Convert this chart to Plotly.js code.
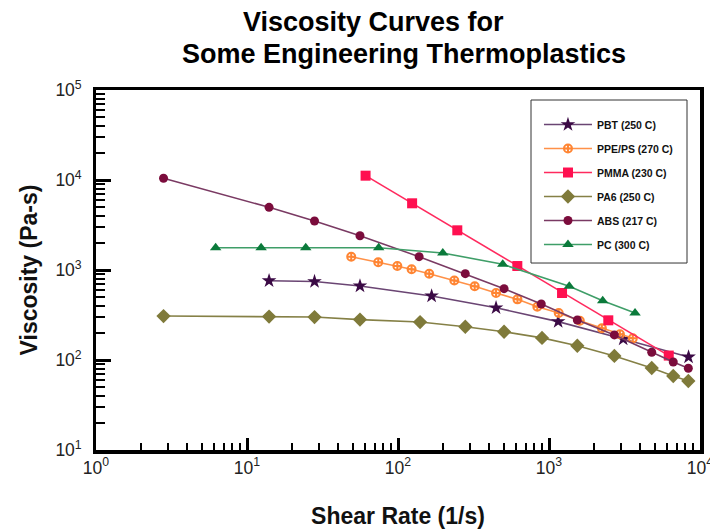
<!DOCTYPE html>
<html><head><meta charset="utf-8">
<script src="https://cdn.plot.ly/plotly-3.0.1.min.js"></script>
<style>html,body{margin:0;padding:0;background:#fff}#chart{width:710px;height:529px}</style>
</head><body><div id="chart"></div>
<script>
// Series names (legend labels)
const seriesNames = ["PBT (250 C)", "PPE/PS (270 C)", "PMMA (230 C)", "PA6 (250 C)", "ABS (217 C)", "PC (300 C)"];

// Shear rate (1/s) and viscosity (Pa-s)
const pbtX = [14, 28, 56, 167, 446, 1150, 3100, 8400];
const pbtY = [760, 745, 665, 515, 380, 267, 171, 108];

const ppeX = [49, 74, 99, 123, 161, 236, 322, 446, 618, 837, 1160, 1600, 2240, 2950, 3590];
const ppeY = [1406, 1219, 1107, 1021, 910, 764, 661, 555, 472, 391, 333, 273, 225, 193, 174];

const pmmaX = [61, 124, 247, 617, 1220, 2470, 6210];
const pmmaY = [11170, 5510, 2760, 1107, 555, 276, 112];

const pa6X = [2.8, 14, 28, 56, 140, 279, 504, 899, 1540, 2710, 4790, 6650, 8370];
const pa6Y = [308, 304, 300, 281, 264, 234, 206, 176, 144, 111, 81.5, 66.4, 58.4];

const absX = [2.8, 14, 28, 56, 138, 279, 504, 889, 1540, 2710, 4790, 6650, 8370];
const absY = [10450, 4970, 3500, 2400, 1406, 910, 620, 419, 278, 190, 122, 95, 81];

const pcX = [6.2, 12.4, 24.5, 74.5, 198, 494, 1362, 2268, 3714];
const pcY = [1770, 1770, 1770, 1770, 1545, 1157, 659, 456, 333];

// Axis tick labels
const xTickAlias = {"1": "10<sup>0</sup>", "10": "10<sup>1</sup>"};
const yTickAlias = {"10": "10<sup>1</sup>"};

const FONT = "Liberation Sans, Arial, Helvetica, sans-serif";

function mk(name, x, y, symbol, mcolor, lcolor, size, extra) {
  return {
    type: "scatter", mode: "lines+markers", name: name, x: x, y: y,
    line: {color: lcolor, width: 1.6},
    marker: Object.assign({symbol: symbol, color: mcolor, size: size, line: {width: 0}}, extra || {}),
    legendgroup: name
  };
}

const traces = [
  mk(seriesNames[0], pbtX, pbtY, "star", "#3b0a45", "#6a4573", 11),
  mk(seriesNames[1], ppeX, ppeY, "circle-cross-open", "#ff8533", "#ff9148", 8, {line: {width: 2, color: "#ff8533"}}),
  mk(seriesNames[2], pmmaX, pmmaY, "square", "#ff1050", "#ff2a5e", 10),
  mk(seriesNames[3], pa6X, pa6Y, "diamond", "#7f7a3a", "#858046", 11),
  mk(seriesNames[4], absX, absY, "circle", "#7b0c3c", "#7a3a63", 9),
  mk(seriesNames[5], pcX, pcY, "triangle-up", "#0b7a3b", "#3f9e68", 10)
];

const layout = {
  width: 710, height: 529,
  margin: {l: 96, r: 10, t: 90, b: 79},
  paper_bgcolor: "#fff", plot_bgcolor: "#fff",
  font: {family: FONT, color: "#111"},
  showlegend: true,
  legend: {
    x: 0.7334, y: 0.9444, xanchor: "left", yanchor: "top",
    bgcolor: "rgba(0,0,0,0)", borderwidth: 0,
    font: {family: FONT, size: 10.5, color: "#111", weight: "bold"},
    tracegroupgap: 5, itemwidth: 48
  },
  shapes: [
    {type: "rect", xref: "paper", yref: "paper", x0: 0.7202, x1: 0.9785, y0: 0.5194, y1: 0.9722,
     line: {color: "#333", width: 1}, fillcolor: "#fff", layer: "below"}
  ],
  xaxis: {
    type: "log", range: [0, 4], dtick: 1, exponentformat: "power",
    labelalias: xTickAlias, ticklabeloverflow: "allow",
    ticks: "inside", ticklen: 12, tickwidth: 3, tickcolor: "#000",
    minor: {ticks: "inside", ticklen: 7, tickwidth: 2, tickcolor: "#000", dtick: "D1", showgrid: false},
    showline: true, linewidth: 3.5, linecolor: "#000", mirror: true,
    showgrid: false, zeroline: false,
    tickfont: {family: FONT, size: 14, color: "#222"},
    title: {text: "Shear Rate (1/s)", font: {family: FONT, size: 23, color: "#111", weight: "bold"}, standoff: 32}
  },
  yaxis: {
    type: "log", range: [1, 5], dtick: 1, exponentformat: "power",
    labelalias: yTickAlias, ticklabeloverflow: "allow", ticklabelstandoff: 8,
    ticks: "inside", ticklen: 15, tickwidth: 3, tickcolor: "#000",
    minor: {ticks: "inside", ticklen: 9, tickwidth: 2, tickcolor: "#000", dtick: "D1", showgrid: false},
    showline: true, linewidth: 3.5, linecolor: "#000", mirror: true,
    showgrid: false, zeroline: false,
    tickfont: {family: FONT, size: 14, color: "#222"},
    title: {text: "Viscosity (Pa-s)", font: {family: FONT, size: 23, color: "#111", weight: "bold"}, standoff: 12}
  },
  annotations: [
    {text: "Viscosity Curves for", xref: "paper", yref: "paper", x: 0.460, y: 1.19,
     xanchor: "center", yanchor: "middle", showarrow: false,
     font: {family: FONT, size: 27, color: "#000", weight: "bold"}},
    {text: "Some Engineering Thermoplastics", xref: "paper", yref: "paper", x: 0.51, y: 1.10,
     xanchor: "center", yanchor: "middle", showarrow: false,
     font: {family: FONT, size: 27, color: "#000", weight: "bold"}}
  ]
};

Plotly.newPlot("chart", traces, layout, {displayModeBar: false, staticPlot: true});
</script>
</body></html>
